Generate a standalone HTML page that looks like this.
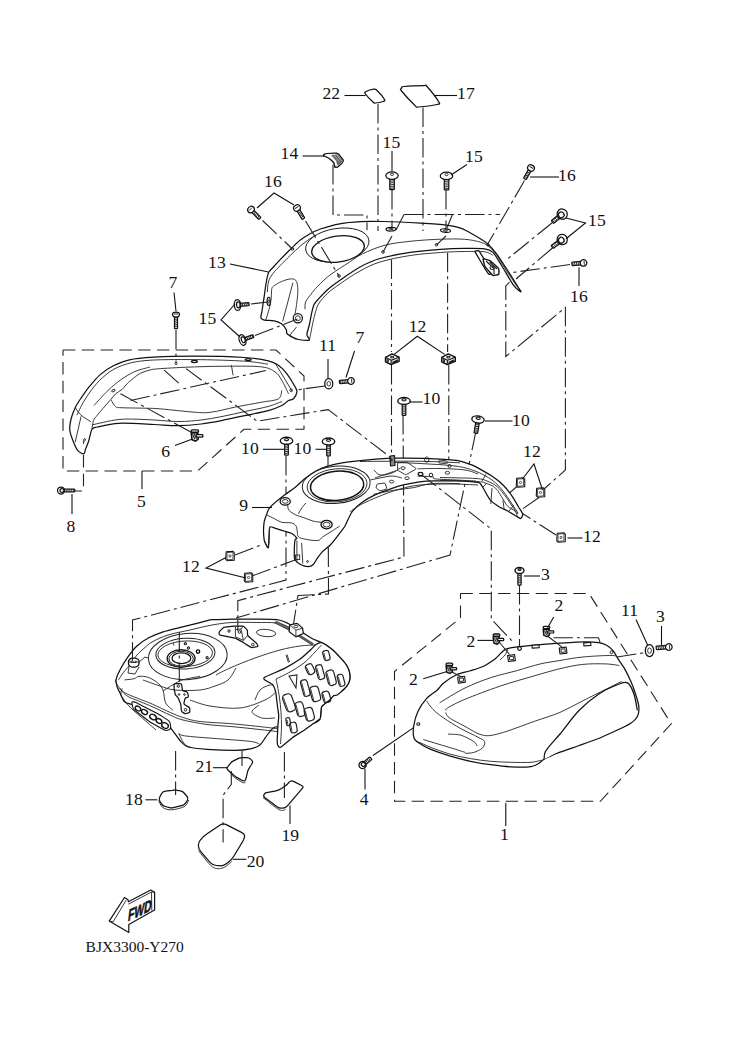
<!DOCTYPE html>
<html><head><meta charset="utf-8"><style>
html,body{margin:0;padding:0;background:#fff}
svg{display:block}
.n{font-family:"Liberation Serif",serif;font-size:17.6px;fill:#111}
.c{font-family:"Liberation Serif",serif;font-size:15.5px;fill:#111}
.s{fill:none;stroke:#111;stroke-width:1.1}
.ch{fill:none;stroke:#222;stroke-width:1.1;stroke-dasharray:19.5 4 3 4}
.da{fill:none;stroke:#222;stroke-width:1.1;stroke-dasharray:12.4 6.4}
.p{fill:#fff;stroke:#111;stroke-width:1.25;stroke-linejoin:round}
.t{fill:none;stroke:#222;stroke-width:0.9}
</style></head><body>
<svg width="744" height="1052" viewBox="0 0 744 1052">
<path d="M63.0,350.0 L276.0,350.0 L304.0,376.0 L304.0,429.3 L244.0,429.3 L197.5,471.0 L63.0,471.0 L63.0,350.0" class="da"/>
<path d="M460.5,593.5 L589.0,593.5 L671.3,723.8 L600.4,801.3 L394.5,801.3 L394.5,671.5 L460.5,617.8 L460.5,593.5" class="da"/>
<path d="M83.5,455.0 L83.5,491.0 L75.0,491.0" class="da"/>
<path d="M552.5,222.5 L505.0,261.0" class="ch"/>
<path d="M552.5,248.0 L516.0,279.0" class="ch"/>
<path d="M570.0,264.5 L512.5,272.5" class="ch"/>
<path d="M325.0,386.0 L296.0,390.0" class="ch"/>
<path d="M391.5,259.5 L391.5,352.0" class="ch"/>
<path d="M447.6,252.8 L447.6,352.0" class="ch"/>
<path d="M391.5,365.0 L391.5,460.0" class="ch"/>
<path d="M448.8,365.0 L448.8,460.0" class="ch"/>
<path d="M403.0,415.0 L404.0,557.0 L237.8,600.6 L237.8,630.8" class="ch"/>
<path d="M286.0,456.0 L286.0,580.0 L132.5,620.0 L132.5,655.0" class="ch"/>
<path d="M328.0,456.0 L328.5,594.0 L298.0,595.5 L293.0,627.5" class="ch"/>
<path d="M476.0,431.0 L450.0,555.0 L236.0,618.0" class="ch"/>
<path d="M235.0,555.0 L263.5,544.0" class="ch"/>
<path d="M252.0,576.0 L295.0,560.0" class="ch"/>
<path d="M517.5,486.0 L506.0,496.0" class="ch"/>
<path d="M539.0,497.5 L517.5,512.5" class="ch"/>
<path d="M556.0,535.0 L521.0,512.5" class="ch"/>
<path d="M519.5,585.0 L519.5,640.0" class="ch"/>
<path d="M509.5,282.0 L505.8,286.0 L505.8,356.5 L565.4,307.4 L565.4,470.0 L544.0,489.0" class="ch"/>
<path d="M404.0,214.5 L500.0,214.5" class="ch"/>
<path d="M83.8,453.8 C82.7,454.0 79.5,452.6 77.9,450.7 C76.3,448.8 74.3,444.1 73.1,441.0 C71.9,437.9 70.1,433.5 69.8,430.3 C69.5,427.1 70.1,422.9 70.9,419.5 C71.7,416.1 73.7,410.9 75.2,407.7 C76.7,404.5 78.9,401.2 81.1,398.0 C83.3,394.8 86.8,389.7 89.7,386.2 C92.6,382.7 96.9,377.5 100.5,374.4 C104.1,371.3 109.1,368.0 113.4,365.8 C117.8,363.6 123.4,361.1 129.5,359.8 C135.6,358.5 144.4,357.8 154.1,357.2 C163.8,356.6 180.8,356.1 194.4,356.1 C208.0,356.1 233.7,356.8 244.8,357.5 C255.9,358.2 263.3,359.6 268.3,360.8 C273.3,362.0 275.6,363.3 278.4,365.2 C281.2,367.1 284.3,370.3 286.8,373.6 C289.3,376.9 293.7,384.2 295.2,387.0 C296.7,389.8 297.2,390.3 296.9,392.1 C296.6,393.9 294.8,397.5 293.5,398.8 C292.2,400.1 290.3,399.5 288.5,400.5 C286.7,401.5 284.8,404.0 281.8,405.5 C278.8,407.0 273.9,409.1 268.3,410.6 C262.8,412.1 251.9,414.1 244.8,415.6 C237.8,417.1 227.9,419.3 221.3,420.6 C214.7,421.9 207.7,423.2 201.1,424.0 C194.5,424.8 184.7,425.6 177.6,425.7 C170.5,425.8 162.9,424.9 154.1,424.5 C145.3,424.1 127.3,422.9 118.8,423.3 C110.3,423.7 101.3,426.1 97.3,427.0 C93.3,427.9 93.2,427.4 91.9,429.5 C90.6,431.6 89.7,438.0 88.7,441.0 C87.7,444.0 86.1,447.7 85.4,449.6 C84.7,451.5 84.9,453.6 83.8,453.8Z" class="p"/>
<path d="M76.8,415.2 C77.9,413.1 80.8,406.6 83.3,402.3 C85.8,398.0 88.7,393.5 91.9,389.4 C95.1,385.3 98.1,381.4 102.6,377.6 C107.1,373.8 111.7,369.6 118.8,366.8 C125.9,364.0 132.4,361.8 145.0,360.6 C157.6,359.4 177.8,359.5 194.4,359.6 C211.0,359.7 232.5,360.4 244.8,361.2 C257.1,362.0 264.1,363.7 268.0,364.2" class="t" />
<path d="M94.0,405.5 C96.3,403.0 103.5,394.8 108.0,390.5 C112.5,386.2 116.4,382.9 120.9,379.7 C125.4,376.5 130.2,373.6 135.0,371.5 C139.8,369.4 147.5,367.8 150.0,367.0" class="t" />
<path d="M91.9,429.2 C92.2,427.8 92.6,422.9 93.5,420.6 C94.4,418.3 95.8,417.2 97.3,415.2 C98.8,413.2 100.4,411.3 102.6,408.8 C104.8,406.3 108.0,402.8 110.2,400.2 C112.4,397.6 114.0,395.3 116.0,393.5 C118.0,391.7 120.3,390.9 122.0,389.5 C123.7,388.1 124.4,386.6 126.0,385.0 C127.6,383.4 129.3,381.6 131.7,379.7 C134.1,377.8 137.2,374.9 140.3,373.3 C143.4,371.7 146.6,370.8 150.0,370.0 C153.4,369.2 153.4,369.1 160.8,368.6 C168.2,368.1 183.2,367.3 194.4,366.9 C205.6,366.5 216.8,366.2 228.0,366.2 C239.2,366.2 253.8,365.9 261.6,366.9 C269.4,367.8 271.6,369.7 275.0,371.9 C278.4,374.1 279.6,376.6 281.8,380.3 C284.1,384.0 287.4,391.6 288.5,393.8" class="t" />
<path d="M111.2,400.2 C111.9,401.3 113.9,405.4 115.5,406.6 C117.1,407.9 116.0,407.4 120.9,407.7 C125.8,408.0 138.3,408.0 145.0,408.2 C151.7,408.4 152.6,408.2 160.8,408.9 C169.0,409.6 186.0,411.6 194.4,412.2 C202.8,412.8 204.5,413.0 211.2,412.2 C217.9,411.4 226.3,408.9 234.7,407.2 C243.1,405.5 254.3,403.6 261.6,402.2 C268.9,400.8 275.0,400.8 278.4,398.8 C281.8,396.8 281.2,391.8 281.8,390.4" class="t" />
<path d="M91.9,424.9 C96.4,424.0 110.0,420.4 118.8,419.5 C127.6,418.6 135.1,419.2 145.0,419.5 C154.9,419.8 168.7,421.4 178.0,421.5 C187.3,421.6 193.7,420.8 201.0,420.0 C208.3,419.2 214.7,417.9 222.0,416.5 C229.3,415.1 237.3,413.2 245.0,411.5 C252.7,409.8 261.8,408.2 268.0,406.5 C274.2,404.8 279.7,402.3 282.0,401.5" class="t" />
<path d="M75.2,407.7 C76.2,408.9 78.5,412.9 81.1,415.2 C83.7,417.5 89.2,420.6 90.8,421.7" class="t" />
<path d="M81.1,416.3 L75.2,442.1" class="t"/>
<path d="M276.0,364.5 L292.0,391.0" class="t"/>
<circle cx="291.2" cy="390.4" r="1.3" class="t"/>
<ellipse cx="113.4" cy="390.5" rx="1.8" ry="1.1" transform="rotate(-30 113.4 390.5)" class="t"/>
<path d="M83.6,444 C83,441 83.5,438.5 85,438.5 C86,439 85.5,441 84,441.5" class="t"/>
<path d="M176.0,330.0 L176.0,363.0" class="ch"/>
<path d="M120.5,393.8 L197.8,435.8" class="ch"/>
<path d="M130.6,400.5 L266.0,370.5" class="ch"/>
<path d="M186.0,368.6 L257.2,421.2 L328.2,409.6 L390.5,457.4" class="ch"/>
<path d="M164.2,370.2 L179.3,383.7" class="ch"/>
<path d="M231.4,365.2 L233.1,375.3" class="t"/>
<circle cx="176" cy="363.5" r="1.1" class="t"/>
<ellipse cx="194.4" cy="361.5" rx="3" ry="1.1" class="p"/>
<ellipse cx="248.2" cy="359.5" rx="3" ry="1" class="p"/>
<path d="M269.1,508.5 C270.3,506.6 273.1,504.3 275.2,502.4 C277.3,500.5 282.5,496.4 285.2,494.4 C287.9,492.4 292.6,489.5 295.3,487.3 C298.0,485.1 302.2,480.6 305.4,478.2 C308.6,475.8 315.5,471.1 319.5,469.2 C323.5,467.3 330.8,465.2 335.6,464.1 C340.4,463.0 350.4,461.8 355.8,461.1 C361.2,460.4 370.6,459.5 376.0,459.1 C381.4,458.7 389.7,458.2 396.1,458.1 C402.5,458.0 415.8,458.0 423.8,458.3 C431.8,458.6 449.7,459.5 456.0,460.4 C462.3,461.3 467.7,463.4 471.1,464.7 C474.5,466.0 478.9,468.5 481.8,470.1 C484.7,471.7 489.7,474.6 492.6,476.6 C495.5,478.6 500.7,482.6 503.3,485.2 C505.9,487.8 509.9,493.0 511.9,495.9 C513.9,498.8 517.0,504.3 518.4,506.7 C519.8,509.1 522.4,512.6 522.7,514.2 C523.0,515.8 521.1,518.1 520.5,518.5 C519.9,518.9 520.1,518.4 518.4,517.4 C516.7,516.4 510.2,512.4 507.6,511.0 C505.0,509.6 501.3,508.1 499.0,506.7 C496.7,505.3 492.4,502.5 490.4,500.2 C488.4,497.9 485.4,491.8 484.0,489.5 C482.6,487.2 481.1,484.0 479.7,483.0 C478.3,482.0 476.4,482.2 473.2,481.9 C470.0,481.6 461.2,481.0 456.0,480.9 C450.8,480.8 439.4,480.8 434.5,480.9 C429.6,481.0 423.8,481.3 419.5,481.9 C415.2,482.5 406.0,484.3 402.3,485.2 C398.6,486.1 395.6,487.1 392.1,488.3 C388.6,489.5 380.0,492.5 376.0,494.4 C372.0,496.3 365.1,500.1 361.9,502.4 C358.7,504.7 354.3,508.9 352.0,512.0 C349.7,515.1 346.6,523.2 345.0,526.0 C343.4,528.8 341.7,530.6 339.7,533.2 C337.7,535.8 332.3,542.9 330.0,545.3 C327.7,547.7 324.3,549.8 322.7,551.4 C321.1,553.0 319.2,555.6 317.9,557.4 C316.6,559.2 314.4,563.5 313.1,564.7 C311.8,565.9 309.8,566.5 308.2,566.5 C306.6,566.5 302.8,565.6 301.0,564.7 C299.2,563.8 295.8,561.4 294.9,559.8 C294.0,558.2 294.3,555.2 294.3,552.6 C294.3,550.0 294.6,542.4 294.9,540.5 C295.2,538.6 297.2,539.1 296.7,538.1 C296.2,537.1 293.0,534.1 291.3,533.2 C289.6,532.3 286.1,531.6 284.0,531.0 C281.9,530.4 277.5,528.9 275.6,528.4 C273.7,527.9 270.9,526.1 270.0,527.0 C269.1,527.9 269.2,532.2 269.0,535.0 C268.8,537.8 268.8,546.6 268.3,547.7 C267.8,548.8 265.9,544.0 265.3,542.9 C264.7,541.8 264.3,540.9 264.1,539.3 C263.9,537.7 263.5,533.1 263.5,530.8 C263.5,528.5 263.8,524.2 264.1,522.3 C264.4,520.4 265.2,518.1 265.9,516.3 C266.6,514.5 267.9,510.4 269.1,508.5Z" class="p"/>
<ellipse cx="336.2" cy="484.8" rx="34" ry="18.5" transform="rotate(-5 336.2 484.8)" class="t" style="stroke-width:1"/>
<ellipse cx="337.1" cy="485.8" rx="26.7" ry="14.6" transform="rotate(-5 337.1 485.8)" class="p" style="stroke-width:1.5"/>
<ellipse cx="337.1" cy="485.3" rx="30" ry="16.5" transform="rotate(-5 337.1 485.3)" class="t"/>
<path d="M350.0,512.0 C351.7,510.8 355.0,507.7 360.0,505.0 C365.0,502.3 373.3,498.7 380.0,496.0 C386.7,493.3 393.3,490.8 400.0,489.0 C406.7,487.2 411.7,485.8 420.0,485.0 C428.3,484.2 440.3,484.0 450.0,484.0 C459.7,484.0 473.3,484.8 478.0,485.0" class="t" />
<path d="M395.0,462.5 C399.2,462.7 410.0,462.9 420.0,463.5 C430.0,464.1 445.8,464.8 455.0,466.0 C464.2,467.2 468.8,468.7 475.0,471.0 C481.2,473.3 487.3,476.7 492.0,480.0 C496.7,483.3 499.7,487.0 503.0,491.0 C506.3,495.0 509.5,500.3 512.0,504.0 C514.5,507.7 517.0,511.5 518.0,513.0" class="t" />
<path d="M360.0,461.5 C366.7,461.4 388.3,461.2 400.0,461.2 C411.7,461.2 420.0,461.2 430.0,461.5 C440.0,461.8 455.0,462.6 460.0,462.8" class="t" />
<path d="M398.6,462.7 L406.0,462.2 Q407.0,462.1 407.8,462.7 L415.7,468.2 Q416.5,468.8 415.6,469.3 L406.6,474.4 Q405.7,474.9 404.8,474.4 L398.5,470.7 Q397.6,470.2 397.6,469.2 L397.6,463.8 Q397.6,462.8 398.6,462.7Z" class="t" />
<path d="M417.8,468.8 C421.5,468.8 432.1,468.3 440.0,468.5 C447.9,468.7 458.7,469.1 465.0,470.0 C471.3,470.9 475.8,473.3 478.0,474.0" class="t" />
<path d="M417.8,476.2 C420.3,476.3 429.7,476.4 432.6,476.9 C435.5,477.3 430.7,478.3 435.3,478.9 C439.9,479.4 453.2,479.8 460.0,480.2 C466.8,480.6 473.3,480.9 476.0,481.0" class="t" />
<path d="M373.4,494.4 C376.8,493.7 386.9,491.4 393.6,490.3 C400.3,489.2 407.5,488.7 413.8,487.6 C420.1,486.5 423.5,484.3 431.2,483.6 C438.9,482.9 455.2,483.6 460.0,483.6" class="t" />
<path d="M375.0,478.0 C376.7,477.4 381.2,475.8 385.0,474.5 C388.8,473.2 395.5,470.9 397.6,470.2" class="t" />
<path d="M390.2,456 L394.5,455.5 L395,465.5 L390.5,466 Z" class="p" style="fill:#888;stroke-width:1.1"/>
<path d="M378.0,483.9 L384.0,483.1 Q385.0,483.0 385.3,483.9 L386.7,488.1 Q387.0,489.0 386.0,489.3 L381.0,490.7 Q380.0,491.0 379.2,490.4 L376.8,488.6 Q376.0,488.0 376.2,487.0 L376.8,485.0 Q377.0,484.0 378.0,483.9Z" class="t" />
<ellipse cx="403" cy="468.1" rx="2.2" ry="1.4" class="t"/>
<ellipse cx="420.5" cy="474.2" rx="2.2" ry="1.4" class="t"/>
<ellipse cx="447.4" cy="472.8" rx="2.2" ry="1.4" class="t"/>
<ellipse cx="407" cy="478.2" rx="2.2" ry="1.4" class="t"/>
<ellipse cx="391.6" cy="481.6" rx="2.2" ry="1.4" class="t"/>
<path d="M440.0,480.3 C446.1,480.5 468.6,481.0 476.3,481.5 C484.0,482.0 482.8,482.2 486.0,483.3 C489.2,484.4 492.8,485.5 495.6,488.1 C498.4,490.7 500.9,496.0 502.9,499.0 C504.9,502.0 505.7,504.3 507.7,506.3 C509.7,508.3 513.4,509.3 515.0,511.1 C516.6,512.9 517.0,516.2 517.4,517.2" class="t" />
<path d="M440.0,477.5 C446.0,477.7 468.2,477.9 476.0,478.5 C483.8,479.1 483.5,479.7 487.0,481.0 C490.5,482.3 493.8,483.8 497.0,486.5 C500.2,489.2 503.5,493.8 506.0,497.0 C508.5,500.2 510.0,503.2 512.0,506.0 C514.0,508.8 517.0,512.7 518.0,514.0" class="t" />
<path d="M492.0,488.1 L490.8,503.9" class="t"/>
<path d="M502.9,500.2 L504.1,508.7" class="t"/>
<path d="M483.0,487.0 L486.0,484.0" class="t"/>
<path d="M486.0,474.2 L482.0,481.0" class="t"/>
<path d="M514.0,505.0 L509.0,511.0" class="t"/>
<path d="M374.0,470.0 C375.0,470.8 377.0,474.5 380.0,475.0 C383.0,475.5 388.7,474.2 392.0,473.0 C395.3,471.8 398.7,468.8 400.0,468.0" class="t" />
<path d="M370.0,480.0 C371.7,479.7 376.3,478.7 380.0,478.0 C383.7,477.3 388.3,476.0 392.0,476.0 C395.7,476.0 400.3,477.7 402.0,478.0" class="t" />
<ellipse cx="285.2" cy="501.4" rx="5.1" ry="3.7" class="p" style="stroke-width:1.3"/>
<ellipse cx="285.2" cy="501.4" rx="2.9" ry="1.9" class="t"/>
<ellipse cx="326.6" cy="524.6" rx="5.6" ry="4.2" class="p" style="stroke-width:1.3"/>
<ellipse cx="326.6" cy="524.6" rx="3.4" ry="2.4" class="t"/>
<circle cx="431" cy="475" r="1.8" class="t" style="stroke-width:1"/>
<circle cx="449.5" cy="466" r="1.5" class="t" style="stroke-width:1"/>
<circle cx="391" cy="460" r="1.2" class="t" style="stroke-width:1"/>
<path d="M267.1,515.1 C268.3,515.7 272.0,517.5 274.4,518.7 C276.8,519.9 278.8,521.6 281.6,522.3 C284.4,523.0 288.9,522.3 291.3,522.9 C293.7,523.5 295.1,524.5 296.1,526.0 C297.1,527.5 296.9,530.2 297.3,532.0 C297.7,533.8 297.1,535.7 298.5,536.9 C299.9,538.1 302.6,538.7 305.8,539.3 C309.0,539.9 315.1,540.9 317.9,540.5 C320.7,540.1 320.3,538.5 322.7,536.9 C325.1,535.3 329.6,532.6 332.4,530.8 C335.2,529.0 338.5,526.8 339.7,526.0" class="t" />
<path d="M287.7,504.2 C287.9,505.2 287.5,508.4 288.9,510.2 C290.3,512.0 293.7,513.9 296.1,515.1 C298.5,516.3 300.6,516.5 303.4,517.5 C306.2,518.5 310.1,520.3 313.1,521.1 C316.1,521.9 320.1,522.1 321.5,522.3" class="t" />
<path d="M305.8,503.0 C305.0,504.0 302.2,507.2 301.0,509.0 C299.8,510.8 298.9,513.1 298.5,513.9" class="t" />
<path d="M269.6,527.5 C269.5,529.7 269.4,537.5 269.2,540.5 C269.0,543.5 268.7,544.5 268.6,545.3" class="t" />
<path d="M296.9,540.5 L296.9,562.3" class="t"/>
<path d="M301.6,542.9 L302.8,563.5" class="t"/>
<rect x="295.5" y="555" width="4.2" height="4.5" class="t"/>
<circle cx="307.5" cy="561.5" r="0.9" class="t" style="stroke-width:1"/>
<path d="M266.0,544.0 L268.0,548.0" class="t"/>
<path d="M264.5,541.0 L266.0,545.0" class="t"/>
<path d="M420.5,474.0 L440.0,489.0 L491.3,529.0 L491.3,619.2 L514.0,643.0" class="ch"/>
<ellipse cx="420.5" cy="474" rx="2.4" ry="1.6" class="p" style="stroke-width:1.1"/>
<path d="M425.0,458.1 L426.5,456.9 Q427.0,456.5 427.4,456.9 L428.6,458.1 Q429.0,458.5 428.9,459.1 L428.6,461.4 Q428.5,462.0 427.9,462.0 L425.6,462.0 Q425.0,462.0 424.9,461.4 L424.6,459.1 Q424.5,458.5 425.0,458.1Z" class="t" />
<path d="M438.6,461.0 L445.4,460.5 Q446.0,460.5 446.4,461.0 L447.6,462.5 Q448.0,463.0 447.4,463.1 L440.6,463.9 Q440.0,464.0 439.7,463.5 L438.3,461.5 Q438.0,461.0 438.6,461.0Z" class="t" />
<path d="M116.0,680.2 C116.3,678.2 118.4,673.0 119.7,670.5 C121.0,668.0 124.9,661.2 126.9,658.4 C128.9,655.6 134.1,648.7 136.6,646.3 C139.1,643.9 145.6,639.5 148.7,637.8 C151.8,636.1 159.2,633.1 163.2,631.8 C167.2,630.5 178.1,628.0 182.6,626.9 C187.1,625.8 198.5,622.9 201.9,622.1 C205.3,621.3 208.2,620.0 211.6,619.7 C215.0,619.4 225.9,619.3 231.0,619.2 C236.1,619.1 249.8,619.1 255.2,619.2 C260.6,619.3 272.8,619.1 276.9,619.7 C281.0,620.3 286.1,622.4 290.0,624.5 C293.9,626.6 307.0,635.7 310.7,637.8 C314.4,639.9 319.0,641.3 321.5,642.6 C324.0,643.9 329.7,647.4 331.9,649.2 C334.1,651.0 339.0,656.2 340.7,658.1 C342.4,660.0 345.7,663.8 346.7,665.5 C347.7,667.2 349.3,671.2 349.6,672.9 C349.9,674.6 349.9,678.7 349.6,680.3 C349.3,681.9 347.7,684.8 346.7,686.2 C345.7,687.6 342.3,691.0 340.7,692.1 C339.1,693.2 335.3,694.4 333.4,695.8 C331.5,697.2 325.9,702.6 324.5,703.9 C323.1,705.2 322.0,705.2 321.5,706.9 C321.0,708.6 321.0,716.8 320.1,718.7 C319.2,720.6 316.4,722.3 314.1,723.1 C311.8,723.9 303.7,725.0 300.0,725.5 C296.3,726.0 284.9,726.8 282.0,727.0 C279.1,727.2 276.3,726.6 275.0,727.0 C273.7,727.4 272.1,728.9 271.0,730.1 C269.9,731.3 266.7,735.8 265.4,737.6 C264.1,739.4 261.5,743.9 259.7,745.2 C257.9,746.5 253.1,748.3 250.3,748.9 C247.5,749.5 240.4,750.4 235.3,750.4 C230.2,750.4 212.5,749.7 207.0,749.3 C201.5,748.9 191.3,747.9 188.2,747.0 C185.1,746.1 182.2,742.9 180.7,741.4 C179.2,739.9 176.4,735.7 175.1,733.9 C173.8,732.1 170.8,728.0 169.4,726.3 C168.0,724.5 165.0,720.3 163.2,718.9 C161.4,717.5 156.1,715.1 153.6,714.0 C151.1,712.9 144.0,710.3 141.5,709.2 C139.0,708.1 133.8,705.3 131.8,704.4 C129.8,703.5 125.9,703.3 124.5,701.9 C123.1,700.5 120.5,694.0 119.7,692.3 C118.9,690.6 117.7,688.8 117.3,687.4 C116.9,686.0 115.7,682.2 116.0,680.2Z" class="p"/>
<path d="M118.5,679.9 C119.3,678.7 121.5,675.1 123.3,672.7 C125.1,670.3 127.1,668.4 129.4,665.4 C131.7,662.4 134.4,658.0 137.0,655.0 C139.6,652.0 142.5,649.7 145.0,647.5 C147.5,645.3 148.2,644.1 152.0,642.0 C155.8,639.9 161.7,637.0 168.0,635.0 C174.3,633.0 182.7,631.7 190.0,630.0 C197.3,628.3 205.0,626.2 212.0,625.0 C219.0,623.8 224.7,622.9 232.0,622.5 C239.3,622.1 248.7,622.4 256.0,622.5 C263.3,622.6 270.3,622.1 276.0,623.0 C281.7,623.9 287.7,627.2 290.0,628.0" class="t" />
<path d="M115.4,679.9 C115.7,680.7 116.2,683.0 117.3,684.8 C118.4,686.6 120.3,689.2 122.1,690.8 C123.9,692.4 125.1,693.0 128.1,694.4 C131.1,695.8 136.2,697.7 140.2,699.3 C144.2,700.9 147.2,701.9 152.3,704.1 C157.4,706.3 165.4,710.4 170.5,712.6 C175.6,714.8 177.7,715.9 182.6,717.4 C187.5,718.9 191.9,720.5 200.0,721.5 C208.1,722.5 221.8,722.9 231.0,723.7 C240.2,724.5 247.5,725.3 255.2,726.1 C262.9,726.9 273.4,728.2 277.0,728.6" class="t" />
<path d="M119.5,688.0 C120.2,688.9 122.2,691.9 124.0,693.5 C125.8,695.1 127.2,696.1 130.0,697.5 C132.8,698.9 137.2,700.4 141.0,702.0 C144.8,703.6 148.0,704.8 153.0,707.0 C158.0,709.2 166.0,713.3 171.0,715.5 C176.0,717.7 177.0,718.5 183.0,720.0 C189.0,721.5 199.0,723.4 207.0,724.5 C215.0,725.6 223.0,725.8 231.0,726.5 C239.0,727.2 247.3,728.2 255.0,729.0 C262.7,729.8 273.3,731.1 277.0,731.5" class="t" />
<path d="M178.8,732.9 C179.8,733.4 178.2,734.8 184.5,735.8 C190.8,736.8 205.5,737.7 216.5,738.6 C227.5,739.5 243.1,740.5 250.3,741.4 C257.5,742.3 258.1,743.7 259.7,744.2" class="t" />
<path d="M178.8,733.9 C179.8,735.6 182.6,742.0 184.5,744.2 C186.4,746.4 189.2,746.5 190.1,747.0" class="t" />
<path d="M122.1,688.4 C121.9,689.4 120.5,692.4 120.9,694.4 C121.3,696.4 122.9,698.3 124.5,700.5 C126.1,702.7 127.8,704.9 130.6,707.7 C133.4,710.5 138.3,714.6 141.5,717.4 C144.7,720.2 147.5,722.6 149.9,724.7 C152.3,726.8 155.0,729.1 156.0,730.0" class="t" />
<path d="M124.5,679.9 C126.1,679.7 131.8,679.3 134.2,678.7 C136.6,678.1 136.6,676.5 139.0,676.3 C141.4,676.1 145.5,676.3 148.7,677.5 C151.9,678.7 156.0,681.3 158.4,683.5 C160.8,685.7 162.0,687.6 163.2,690.8 C164.4,694.0 164.0,699.7 165.6,702.9 C167.2,706.1 171.7,709.0 172.9,710.2" class="t" />
<path d="M163.2,690.8 C164.8,689.8 169.7,686.6 172.9,684.8 C176.1,683.0 178.1,681.3 182.6,679.9 C187.1,678.5 197.1,676.9 200.0,676.3" class="t" />
<ellipse cx="187.8" cy="656.5" rx="39.5" ry="23" transform="rotate(-4 187.8 656.5)" class="t" style="stroke-width:1"/>
<ellipse cx="185.4" cy="653.6" rx="29.6" ry="15.3" transform="rotate(-3 185.4 653.6)" class="t" style="stroke-width:1"/>
<ellipse cx="185.2" cy="653.8" rx="27.3" ry="12.8" transform="rotate(-3 185.2 653.8)" class="t"/>
<ellipse cx="181.1" cy="658.5" rx="13.9" ry="8.8" class="p" style="stroke-width:1.4"/>
<ellipse cx="181.1" cy="658.7" rx="12.2" ry="7.4" class="t" style="stroke-width:1"/>
<ellipse cx="181.4" cy="658.2" rx="9.4" ry="5.4" class="p" style="stroke-width:1.3"/>
<circle cx="185.4" cy="643.7" r="1.1" class="t" style="stroke-width:1.1"/>
<circle cx="188.4" cy="648" r="1.1" class="t" style="stroke-width:1.1"/>
<circle cx="207.1" cy="657.7" r="1.1" class="t" style="stroke-width:1.1"/>
<circle cx="198" cy="651.6" r="1.7" class="p" style="stroke-width:1.4"/>
<path d="M173.0,643.0 L174.0,645.5" class="t"/>
<path d="M175.3,683.5 L180.2,683.5 Q181.4,683.5 181.6,684.7 L182.4,689.6 Q182.6,690.8 183.8,691.1 L186.2,691.7 Q187.4,692.0 187.7,693.2 L188.3,695.7 Q188.6,696.9 187.5,697.3 L186.1,697.7 Q185.0,698.1 184.8,699.3 L184.0,702.9 Q183.8,704.1 184.8,704.7 L188.8,707.1 Q189.8,707.7 189.8,708.9 L189.8,711.4 Q189.8,712.6 188.6,712.9 L186.2,713.5 Q185.0,713.8 184.0,713.1 L182.4,712.1 Q181.4,711.4 181.3,710.2 L180.9,705.3 Q180.8,704.1 180.3,703.0 L178.2,698.0 Q177.7,696.9 176.8,696.2 L176.2,695.7 Q175.3,695.0 175.1,693.8 L174.3,689.6 Q174.1,688.4 174.1,687.2 L174.1,684.7 Q174.1,683.5 175.3,683.5Z" class="p" />
<circle cx="178.3" cy="686.2" r="1.2" class="t" style="stroke-width:1"/>
<circle cx="185.5" cy="709.8" r="1.3" class="t" style="stroke-width:1"/>
<circle cx="179" cy="694.5" r="0.8" class="t" style="stroke-width:1"/>
<circle cx="184.5" cy="694.5" r="0.8" class="t" style="stroke-width:1"/>
<path d="M129.3,659.7 L130.2,658.8 Q131.0,658.0 132.2,658.0 L134.8,658.0 Q136.0,658.0 137.0,658.7 L138.0,659.3 Q139.0,660.0 139.0,661.2 L139.0,663.8 Q139.0,665.0 138.1,665.7 L137.4,666.3 Q136.5,667.0 135.3,667.0 L132.2,667.0 Q131.0,667.0 130.1,666.3 L129.4,665.7 Q128.5,665.0 128.5,663.8 L128.5,661.7 Q128.5,660.5 129.3,659.7Z" class="p" />
<path d="M131,660.5 L131,662.5 L136,662.5 L136,660.5 M128.5,662 L139,662" class="t"/>
<path d="M129,667 L128,673 L135,674 L139,667 M139,662 L145,657 L148,658" class="t"/>
<path d="M219.8,631.1 L222.9,628.1 Q223.7,627.2 224.9,627.1 L231.8,626.3 Q233.0,626.2 234.2,626.2 L242.2,626.1 Q243.4,626.1 244.2,626.9 L246.7,629.4 Q247.5,630.2 247.5,631.4 L247.5,634.3 Q247.5,635.5 248.4,636.3 L256.0,642.8 Q256.9,643.6 257.4,644.7 L257.7,645.2 Q258.2,646.3 257.0,646.6 L252.7,647.5 Q251.5,647.8 250.5,647.1 L244.4,643.2 Q243.4,642.5 242.3,641.9 L237.1,639.1 Q236.0,638.5 234.8,638.2 L220.2,635.1 Q219.0,634.8 219.0,633.6 L219.0,633.2 Q219.0,632.0 219.8,631.1Z" class="p" />
<path d="M235.4,626.6 L235.4,636.9 L243.4,640.4 L247.5,635.5 M243.4,626.1 L241,629 L235.4,629.5 M241,629 L243.4,640.4" class="t"/>
<circle cx="229" cy="631" r="1.2" class="t" style="stroke-width:1"/>
<circle cx="239.5" cy="632" r="1.3" class="t" style="stroke-width:1"/>
<circle cx="252.8" cy="644.6" r="1.3" class="t" style="stroke-width:1"/>
<ellipse cx="266.1" cy="633" rx="9.7" ry="3.6" transform="rotate(5 266.1 633)" class="t"/>
<path d="M274.4,622.8 L289.1,630.2 L289.8,627.5 L276.4,621.4 Z" style="fill:#666;stroke:#222;stroke-width:0.7"/>
<path d="M297.2,635.5 L312,645 L313.3,643.6 L298.5,634.2 Z" style="fill:#666;stroke:#222;stroke-width:0.7"/>
<path d="M289.8,624.8 L297.2,623.4 L302.6,628.1 L303.3,633.5 L295.9,636.9 L289.1,631.5 Z" class="p" style="stroke-width:1.2"/>
<path d="M289.8,624.8 L295.9,630.2 L302.6,628.1 M295.9,630.2 L295.9,636.9" class="t"/>
<ellipse cx="296" cy="626.5" rx="2" ry="1.2" class="t"/>
<path d="M287.0,654.5 L289.5,662.0" class="t"/>
<path d="M286.0,655.0 L288.5,662.5" class="t"/>
<path d="M143.0,680.0 C145.8,681.0 154.7,684.3 160.0,686.0 C165.3,687.7 168.3,689.3 175.0,690.0 C181.7,690.7 193.3,690.7 200.0,690.0 C206.7,689.3 210.3,687.7 215.0,686.0 C219.7,684.3 224.5,683.0 228.0,680.0 C231.5,677.0 234.7,670.0 236.0,668.0" class="t" />
<path d="M216.0,675.0 C218.3,673.8 223.5,670.8 230.0,668.0 C236.5,665.2 246.7,661.0 255.0,658.0 C263.3,655.0 272.5,652.0 280.0,650.0 C287.5,648.0 294.2,646.8 300.0,646.0 C305.8,645.2 312.5,645.2 315.0,645.0" class="t" />
<path d="M190.0,700.0 C193.3,701.0 201.7,704.7 210.0,706.0 C218.3,707.3 230.8,709.0 240.0,708.0 C249.2,707.0 259.0,702.7 265.0,700.0 C271.0,697.3 274.2,693.3 276.0,692.0" class="t" />
<path d="M255.0,700.0 C255.8,698.3 257.5,692.5 260.0,690.0 C262.5,687.5 267.3,685.7 270.0,685.0 C272.7,684.3 275.0,685.8 276.0,686.0" class="t" />
<path d="M259.0,705.0 C257.8,706.2 251.5,709.8 252.0,712.0 C252.5,714.2 258.2,717.0 262.0,718.0 C265.8,719.0 272.8,718.0 275.0,718.0" class="t" />
<path d="M133.8,701.9 L134.7,702.1 Q137.0,703.0 139.2,704.2 L157.8,713.8 Q160.0,715.0 162.1,716.4 L167.9,720.1 Q170.0,721.5 170.3,724.0 L170.7,726.5 Q171.0,729.0 168.7,729.9 L168.3,730.1 Q166.0,731.0 163.8,729.8 L152.2,723.2 Q150.0,722.0 148.0,720.5 L135.0,710.5 Q133.0,709.0 132.5,706.5 L132.0,703.5 Q131.5,701.0 133.8,701.9Z" class="p" style="stroke-width:1.1"/>
<ellipse cx="138" cy="708.5" rx="3" ry="2" transform="rotate(30 138 708.5)" class="p" style="stroke-width:1.4"/>
<ellipse cx="144.5" cy="712" rx="3.2" ry="2.2" transform="rotate(30 144.5 712)" class="p" style="stroke-width:1.4"/>
<ellipse cx="153" cy="717" rx="3.5" ry="2.4" transform="rotate(30 153 717)" class="p" style="stroke-width:1.4"/>
<ellipse cx="159" cy="721" rx="3" ry="2.1" transform="rotate(30 159 721)" class="p" style="stroke-width:1.4"/>
<ellipse cx="165" cy="725.5" rx="3.5" ry="2.6" transform="rotate(30 165 725.5)" class="p" style="stroke-width:1.4"/>
<path d="M264.6,677.3 C266.5,676.1 281.1,670.2 284.6,668.4 C288.1,666.6 296.7,661.5 299.4,659.6 C302.1,657.7 309.6,650.7 311.2,649.2 C312.8,647.7 314.6,645.5 315.6,644.8 C316.6,644.1 319.9,642.2 321.5,642.6 C323.1,643.0 330.0,647.7 331.9,649.2 C333.8,650.8 339.2,656.5 340.7,658.1 C342.2,659.7 345.8,664.0 346.7,665.5 C347.6,667.0 349.3,671.4 349.6,672.9 C349.9,674.4 349.9,679.0 349.6,680.3 C349.3,681.6 347.6,685.0 346.7,686.2 C345.8,687.4 341.7,691.2 340.7,692.1 C339.7,693.0 337.8,694.6 337.1,695.0 C336.4,695.4 334.1,695.3 333.4,695.8 C332.7,696.2 331.3,698.7 330.4,699.5 C329.5,700.3 325.4,703.2 324.5,703.9 C323.6,704.6 321.9,706.0 321.5,706.9 C321.1,707.8 320.9,711.6 320.8,712.8 C320.7,714.0 320.8,717.7 320.1,718.7 C319.4,719.7 315.7,721.9 314.1,723.1 C312.5,724.3 306.0,729.0 303.8,730.5 C301.6,732.0 294.2,736.3 292.0,737.9 C289.8,739.5 282.9,745.9 281.6,746.8 C280.3,747.7 279.1,747.2 278.7,746.8 C278.3,746.4 277.3,744.5 277.2,742.4 C277.1,740.3 277.8,728.8 277.9,726.1 C278.0,723.4 278.8,717.9 278.7,715.7 C278.6,713.5 277.5,706.3 277.2,703.9 C276.9,701.5 276.1,694.0 275.7,692.1 C275.2,690.2 273.7,685.9 272.7,684.7 C271.7,683.5 266.1,681.0 265.3,680.3 C264.5,679.6 262.7,678.5 264.6,677.3Z" class="p"/>
<path d="M276.0,679.0 C276.2,680.2 276.9,682.8 277.5,686.0 C278.1,689.2 278.9,693.7 279.5,698.0 C280.1,702.3 280.7,707.2 281.0,712.0 C281.3,716.8 281.6,721.7 281.5,727.0 C281.4,732.3 280.7,741.2 280.5,744.0" class="t" />
<path d="M276.0,679.0 C278.3,677.8 285.3,674.7 290.0,672.0 C294.7,669.3 299.8,666.3 304.0,663.0 C308.2,659.7 312.1,655.0 315.0,652.0 C317.9,649.0 320.4,646.2 321.5,645.0" class="t" />
<rect x="323.4" y="650.5" width="6.1" height="9.9" rx="2.4" transform="rotate(-15 326.5 655.5)" class="t" style="stroke-width:1.2"/>
<path d="M324.6,652.5 L324.6,659.0" transform="rotate(-15 326.5 655.5)" class="t" style="stroke-width:0.8"/>
<rect x="306.4" y="663.9" width="7.3" height="10.6" rx="2.9" transform="rotate(-25 310.1 669.2)" class="t" style="stroke-width:1.2"/>
<path d="M307.6,665.9 L307.6,673.0" transform="rotate(-25 310.1 669.2)" class="t" style="stroke-width:0.8"/>
<rect x="316.8" y="664.8" width="6.6" height="14.7" rx="2.6" transform="rotate(-15 320.0 672.1)" class="t" style="stroke-width:1.2"/>
<path d="M318.0,666.8 L318.0,678.0" transform="rotate(-15 320.0 672.1)" class="t" style="stroke-width:0.8"/>
<rect x="327.1" y="670.1" width="8.0" height="15.3" rx="3.2" transform="rotate(-15 331.1 677.7)" class="t" style="stroke-width:1.2"/>
<path d="M328.3,672.1 L328.3,683.9" transform="rotate(-15 331.1 677.7)" class="t" style="stroke-width:0.8"/>
<rect x="338.1" y="674.3" width="5.9" height="12.0" rx="2.4" transform="rotate(-15 341.1 680.2)" class="t" style="stroke-width:1.2"/>
<path d="M339.3,676.3 L339.3,684.7" transform="rotate(-15 341.1 680.2)" class="t" style="stroke-width:0.8"/>
<rect x="302.0" y="679.7" width="6.7" height="16.7" rx="2.7" transform="rotate(-15 305.3 688.0)" class="t" style="stroke-width:1.2"/>
<path d="M303.2,681.7 L303.2,694.9" transform="rotate(-15 305.3 688.0)" class="t" style="stroke-width:0.8"/>
<rect x="310.9" y="686.2" width="8.7" height="15.3" rx="3.5" transform="rotate(-15 315.2 693.9)" class="t" style="stroke-width:1.2"/>
<path d="M312.1,688.2 L312.1,700.0" transform="rotate(-15 315.2 693.9)" class="t" style="stroke-width:0.8"/>
<rect x="322.7" y="691.2" width="7.3" height="11.3" rx="2.9" transform="rotate(-15 326.4 696.9)" class="t" style="stroke-width:1.2"/>
<path d="M323.9,693.2 L323.9,701.1" transform="rotate(-15 326.4 696.9)" class="t" style="stroke-width:0.8"/>
<rect x="284.3" y="693.8" width="9.4" height="18.0" rx="3.7" transform="rotate(-20 289.0 702.8)" class="t" style="stroke-width:1.2"/>
<path d="M285.5,695.8 L285.5,710.3" transform="rotate(-20 289.0 702.8)" class="t" style="stroke-width:0.8"/>
<rect x="296.1" y="701.8" width="7.9" height="14.6" rx="3.2" transform="rotate(-15 300.1 709.1)" class="t" style="stroke-width:1.2"/>
<path d="M297.3,703.8 L297.3,714.9" transform="rotate(-15 300.1 709.1)" class="t" style="stroke-width:0.8"/>
<rect x="305.0" y="707.6" width="8.6" height="13.3" rx="3.5" transform="rotate(-15 309.3 714.3)" class="t" style="stroke-width:1.2"/>
<path d="M306.2,709.6 L306.2,719.5" transform="rotate(-15 309.3 714.3)" class="t" style="stroke-width:0.8"/>
<rect x="286.2" y="717.6" width="4.0" height="8.0" rx="1.6" transform="rotate(-10 288.2 721.7)" class="t" style="stroke-width:1.2"/>
<path d="M287.4,719.6 L287.4,724.2" transform="rotate(-10 288.2 721.7)" class="t" style="stroke-width:0.8"/>
<rect x="290.1" y="722.3" width="6.7" height="10.6" rx="2.7" transform="rotate(-10 293.4 727.6)" class="t" style="stroke-width:1.2"/>
<path d="M291.3,724.3 L291.3,731.4" transform="rotate(-10 293.4 727.6)" class="t" style="stroke-width:0.8"/>
<path d="M289,676 L297,675 L296,688 Z" class="t" style="stroke-width:1.1"/>
<path d="M179.3,632.0 L179.3,686.0" class="ch"/>
<path d="M132.5,646.0 L132.5,661.0" class="ch"/>
<path d="M237.8,619.5 L237.8,631.0" class="ch"/>
<path d="M413.6,726.6 C414.1,723.1 416.2,715.2 417.9,711.5 C419.6,707.8 423.9,701.5 426.5,698.6 C429.1,695.7 435.0,692.1 437.3,690.0 C439.6,687.9 441.1,684.9 443.7,682.9 C446.3,680.9 453.2,676.4 456.6,674.8 C460.0,673.2 466.1,672.1 469.5,671.0 C472.9,669.9 479.0,668.4 482.4,666.8 C485.8,665.2 492.7,660.6 495.3,658.7 C497.9,656.8 500.1,653.7 501.8,652.3 C503.5,650.9 503.9,649.3 508.2,648.4 C512.5,647.5 527.1,645.9 534.0,645.2 C540.9,644.5 552.9,643.6 559.8,643.2 C566.7,642.8 580.4,642.0 585.6,641.9 C590.8,641.8 595.7,642.2 598.5,642.6 C601.3,643.0 604.7,644.1 606.6,645.2 C608.5,646.3 611.6,648.8 613.1,650.6 C614.6,652.4 616.4,656.3 617.9,658.7 C619.4,661.1 622.7,665.4 624.4,668.4 C626.1,671.4 629.3,677.9 630.8,681.3 C632.3,684.7 634.5,690.8 635.6,694.2 C636.7,697.6 638.7,704.1 638.9,707.1 C639.1,710.1 638.4,714.7 637.3,716.8 C636.2,718.9 633.8,721.3 630.8,723.2 C627.8,725.1 619.0,729.3 614.7,731.3 C610.4,733.3 603.2,736.6 598.5,738.5 C593.8,740.4 584.3,743.7 579.2,745.5 C574.1,747.3 564.7,750.4 560.0,752.2 C555.3,754.0 546.9,757.7 544.1,759.2 C541.3,760.7 540.7,762.3 539.0,763.3 C537.3,764.3 534.8,766.2 531.0,766.7 C527.2,767.2 516.2,767.2 510.8,766.9 C505.4,766.6 496.0,765.4 490.6,764.7 C485.2,764.0 475.9,762.4 470.5,761.3 C465.1,760.2 455.7,757.8 450.3,756.2 C444.9,754.6 434.4,750.9 430.2,749.2 C426.0,747.5 421.2,744.6 419.0,743.1 C416.8,741.6 414.7,740.2 414.0,738.0 C413.3,735.8 413.1,730.1 413.6,726.6Z" class="p"/>
<path d="M439.6,702.8 C443.8,700.3 456.4,692.2 465.0,688.0 C473.6,683.8 482.5,680.4 491.2,677.5 C499.9,674.6 509.3,672.8 517.4,670.5 C525.5,668.2 532.9,665.7 540.0,664.0 C547.1,662.3 552.9,661.7 560.0,660.5 C567.1,659.3 574.1,657.8 582.8,657.0 C591.5,656.2 606.5,655.3 612.4,655.5 C618.3,655.7 617.1,657.6 618.0,658.0" class="t" />
<path d="M445.7,710.5 C446.0,710.1 444.3,709.9 447.5,708.0 C450.7,706.1 456.3,702.9 465.0,699.3 C473.7,695.7 488.3,690.1 499.9,686.2 C511.5,682.3 524.8,678.6 534.8,675.7 C544.8,672.8 552.0,670.6 560.0,668.7 C568.0,666.8 575.2,665.2 582.8,664.4 C590.4,663.6 599.5,663.7 605.6,663.9 C611.7,664.1 617.0,665.2 619.3,665.5" class="t" />
<path d="M445.7,712.4 C446.3,713.3 446.0,715.4 449.2,717.7 C452.4,720.0 459.5,723.5 465.0,726.4 C470.5,729.3 476.6,733.9 482.4,735.1 C488.2,736.3 491.2,735.7 499.9,733.4 C508.6,731.1 524.8,724.7 534.8,721.2 C544.8,717.7 552.0,715.8 560.0,712.4 C568.0,709.0 575.2,704.6 582.8,700.8 C590.4,697.0 599.1,692.6 605.6,689.4 C612.1,686.2 618.9,682.8 621.6,681.5" class="t" />
<path d="M544.1,759.2 C544.3,758.0 543.9,754.7 545.1,752.2 C546.3,749.7 548.6,747.1 551.1,744.1 C553.6,741.1 555.3,739.6 560.0,734.0 C564.7,728.4 572.8,716.9 579.2,710.3 C585.6,703.7 592.0,698.5 598.5,694.2 C605.0,689.9 613.0,686.4 617.9,684.5 C622.8,682.6 624.9,681.3 627.6,682.9 C630.3,684.5 632.4,689.6 634.0,694.2 C635.6,698.8 636.8,707.6 637.3,710.3" class="p" />
<path d="M419.0,742.1 C420.9,742.9 425.0,745.1 430.2,747.1 C435.4,749.1 443.6,752.3 450.3,754.2 C457.0,756.1 463.8,757.4 470.5,758.6 C477.2,759.8 483.9,760.7 490.6,761.3 C497.3,761.9 504.1,762.1 510.8,762.3 C517.5,762.5 526.0,762.6 531.0,762.3 C536.0,761.9 539.3,760.6 541.0,760.2" class="t" />
<path d="M426.5,700.8 C427.6,702.2 430.1,706.5 433.0,709.4 C435.9,712.3 439.1,714.8 443.7,718.0 C448.3,721.2 455.2,725.5 460.9,728.7 C466.6,731.9 474.2,735.1 478.1,737.3 C482.1,739.4 483.9,739.8 484.6,741.6 C485.3,743.4 484.2,746.3 482.4,748.1 C480.6,749.9 476.7,751.5 473.8,752.4 C470.9,753.3 466.6,753.2 465.2,753.4" class="t" />
<path d="M448.0,734.1 C450.1,734.3 456.6,734.0 460.9,735.2 C465.2,736.5 471.1,739.8 473.8,741.6 C476.5,743.4 476.5,745.2 477.0,745.9" class="t" />
<path d="M423.3,739.5 C427.4,740.8 441.0,744.9 448.0,747.0 C455.0,749.1 462.3,751.5 465.2,752.4" class="t" />
<path d="M508.2,648.4 C507.7,649.5 506.4,653.1 505.0,655.0 C503.6,656.9 500.8,659.2 500.0,660.0" class="t" />
<rect x="458.0" y="676.7" width="7" height="6" class="p" transform="rotate(-8 461.5 679.7)" style="stroke-width:1.1"/>
<rect x="459.5" y="678.1" width="4" height="3.2" class="t" transform="rotate(-8 461.5 679.7)"/>
<rect x="508.0" y="655.1" width="7" height="6" class="p" transform="rotate(-8 511.5 658.1)" style="stroke-width:1.1"/>
<rect x="509.5" y="656.5" width="4" height="3.2" class="t" transform="rotate(-8 511.5 658.1)"/>
<rect x="559.6" y="647.6" width="7" height="6" class="p" transform="rotate(-8 563.1 650.6)" style="stroke-width:1.1"/>
<rect x="561.1" y="649.0" width="4" height="3.2" class="t" transform="rotate(-8 563.1 650.6)"/>
<rect x="532.1" y="645.0" width="7" height="3" class="p" transform="rotate(-3 535.6 646.5)" style="stroke-width:1.1"/>
<rect x="583.8" y="642.7" width="7" height="3" class="p" transform="rotate(-3 587.3 644.2)" style="stroke-width:1.1"/>
<circle cx="519.5" cy="648.5" r="1.8" class="p"/>
<circle cx="611.5" cy="652.3" r="1.4" class="t" style="stroke-width:1"/>
<ellipse cx="418.3" cy="724" rx="1.5" ry="1.3" class="t" style="stroke-width:1.1"/>
<path d="M500.0,643.0 L509.5,654.5" class="ch"/>
<path d="M547.5,636.0 L563.0,648.0" class="ch"/>
<path d="M553.4,637.7 L598.5,637.7 L600.2,642.6" class="ch"/>
<path d="M617.0,657.0 L644.0,652.8" class="ch"/>
<path d="M519.5,640.0 L519.5,646.0" class="ch"/>
<path d="M452.0,672.0 L461.5,677.0" class="ch"/>
<path d="M309.3,340.1 C308.2,340.7 300.7,339.9 298.4,339.5 C296.1,339.1 293.8,337.9 292.3,337.1 C290.8,336.3 287.7,334.5 286.9,333.5 C286.1,332.5 287.0,331.1 286.3,329.8 C285.6,328.5 283.1,325.0 281.5,323.8 C279.9,322.6 276.5,321.3 274.2,320.8 C271.9,320.3 266.3,320.6 264.5,320.2 C262.7,319.8 261.2,319.0 260.9,317.7 C260.6,316.4 261.7,313.1 262.1,310.5 C262.5,307.9 263.4,301.5 263.9,298.4 C264.4,295.3 265.1,289.5 265.5,287.0 C265.9,284.5 266.3,282.0 266.7,280.0 C267.1,278.0 267.8,274.0 268.7,272.3 C269.6,270.6 271.9,268.7 273.4,267.0 C274.9,265.3 278.4,261.5 280.2,259.6 C282.0,257.7 285.3,254.4 286.9,252.8 C288.5,251.2 290.5,249.2 292.3,247.5 C294.1,245.8 297.9,241.9 300.3,240.1 C302.7,238.3 307.3,235.2 310.0,233.7 C312.7,232.2 316.5,230.3 320.5,229.0 C324.5,227.7 334.4,224.8 339.7,223.8 C345.0,222.8 354.6,221.9 360.4,221.6 C366.2,221.3 375.0,221.3 383.0,221.5 C391.0,221.7 411.8,222.7 420.3,223.2 C428.8,223.7 441.1,224.5 446.5,225.2 C451.9,225.9 457.1,227.0 460.6,228.2 C464.1,229.4 469.2,232.3 472.7,234.3 C476.2,236.3 483.7,240.6 486.9,243.3 C490.1,246.0 494.0,250.5 496.9,254.4 C499.8,258.3 506.0,268.0 509.0,272.6 C512.0,277.2 517.5,286.2 519.1,288.7 C520.7,291.2 521.1,291.4 521.1,291.7 C521.1,292.0 520.2,291.6 519.1,290.7 C518.0,289.8 515.5,288.2 513.1,284.7 C510.7,281.2 503.7,268.8 501.0,264.5 C498.3,260.2 495.1,254.5 492.9,252.4 C490.7,250.3 488.6,249.3 484.8,248.8 C481.0,248.3 470.6,248.3 464.7,248.4 C458.8,248.5 447.8,248.9 440.5,249.4 C433.2,249.9 418.3,251.2 410.2,252.4 C402.1,253.6 386.7,256.6 380.0,258.5 C373.3,260.4 365.3,264.1 360.0,267.0 C354.7,269.9 344.2,277.3 340.0,280.2 C335.8,283.1 331.4,286.3 328.6,288.7 C325.8,291.1 320.9,296.3 319.0,298.4 C317.1,300.5 315.1,302.5 314.1,304.4 C313.1,306.3 312.3,310.2 311.7,312.9 C311.1,315.6 309.9,322.1 309.3,325.0 C308.7,327.9 306.9,332.7 306.9,334.7 C306.9,336.7 310.4,339.5 309.3,340.1Z" class="p"/>
<path d="M267.3,292.0 C267.5,290.2 267.7,284.2 268.7,281.0 C269.7,277.8 271.5,275.6 273.4,273.0 C275.3,270.4 277.4,268.5 280.2,265.6 C283.0,262.7 286.8,258.8 290.2,255.5 C293.6,252.2 297.0,248.9 300.3,246.1 C303.6,243.3 307.1,240.6 310.0,238.7 C312.9,236.8 316.7,235.2 318.0,234.5" class="t" />
<path d="M305.0,309.3 C305.1,308.1 304.7,304.4 305.6,302.0 C306.5,299.6 308.5,297.4 310.5,294.8 C312.5,292.2 314.4,289.6 317.7,286.3 C320.9,283.0 324.7,279.0 330.0,275.0 C335.3,271.0 343.9,265.8 349.4,262.2 C354.8,258.6 356.8,256.5 362.7,253.7 C368.6,250.9 377.1,247.3 385.0,245.2 C392.9,243.1 400.9,242.3 410.2,241.3 C419.4,240.3 431.4,239.5 440.5,239.2 C449.6,238.9 458.0,238.8 464.7,239.3 C471.4,239.8 476.6,241.0 480.8,242.3 C485.0,243.7 487.2,245.2 489.9,247.4 C492.6,249.6 494.4,251.9 496.9,255.4 C499.4,258.9 501.6,263.3 505.0,268.5 C508.4,273.7 515.1,283.7 517.1,286.7" class="t" />
<path d="M309.3,340.1 C309.5,339.2 309.9,337.6 310.5,334.7 C311.1,331.8 312.0,326.6 312.9,322.6 C313.8,318.6 314.9,313.7 315.9,310.5 C316.9,307.3 317.1,306.0 319.0,303.2 C320.9,300.4 323.9,296.7 327.4,293.5 C330.9,290.3 334.6,287.6 340.0,283.9 C345.4,280.1 353.3,274.6 360.0,271.0 C366.7,267.4 371.6,264.6 380.0,262.0 C388.4,259.4 400.1,257.1 410.2,255.5 C420.3,253.9 431.4,253.2 440.5,252.5 C449.6,251.8 457.3,251.6 464.7,251.5 C472.1,251.4 480.1,251.2 484.8,251.8 C489.5,252.5 491.5,254.8 492.9,255.4" class="t" />
<ellipse cx="337.3" cy="245" rx="32" ry="16.5" transform="rotate(-9 337.3 245)" class="p" style="stroke-width:0.9"/>
<ellipse cx="338" cy="249" rx="26.5" ry="13" transform="rotate(-8 338 249)" class="p" style="stroke-width:1.35"/>
<path d="M265.7,320.2 C266.3,318.2 268.5,311.7 269.4,308.1 C270.3,304.5 270.8,301.6 271.2,298.4 C271.6,295.2 271.3,290.8 271.8,288.7 C272.3,286.6 272.6,286.9 274.2,285.7 C275.8,284.5 278.9,282.6 281.5,281.5 C284.1,280.4 287.7,279.3 289.9,279.0 C292.1,278.7 293.6,278.8 294.8,279.6 C296.0,280.4 296.7,281.8 297.2,283.9 C297.7,286.0 297.9,288.9 297.8,292.3 C297.7,295.7 297.1,300.6 296.6,304.4 C296.1,308.2 295.1,313.5 294.8,315.3" class="t" />
<path d="M292.9,282.7 L282.7,321.4" class="t"/>
<path d="M296.5,327.0 L290.0,335.0" class="t"/>
<path d="M475.6,251.2 L478.0,250.6 Q478.8,250.4 479.2,251.1 L489.5,267.8 Q489.9,268.5 490.2,269.2 L491.6,272.9 Q491.9,273.6 491.1,273.9 L489.7,274.3 Q488.9,274.6 488.5,273.9 L485.2,269.2 Q484.8,268.5 484.4,267.8 L475.2,252.1 Q474.8,251.4 475.6,251.2Z" class="p" />
<path d="M484.0,258.8 L488.7,260.2 Q489.9,260.5 490.8,261.3 L498.0,267.7 Q498.9,268.5 498.9,269.7 L498.9,273.4 Q498.9,274.6 497.7,274.8 L494.1,275.4 Q492.9,275.6 492.1,274.7 L485.6,267.4 Q484.8,266.5 484.5,265.3 L483.1,259.7 Q482.8,258.5 484.0,258.8Z" class="p" style="stroke-width:1.4"/>
<path d="M486,261 L494,268.5 L494,274 M489.5,262 L497,269" class="t" style="stroke-width:1.2"/>
<ellipse cx="492" cy="268" rx="2" ry="1.5" class="t" style="stroke-width:1.2"/>
<ellipse cx="268.7" cy="301.4" rx="1.6" ry="4" transform="rotate(0 268.7 301.4)" class="p" style="stroke-width:1.2"/>
<ellipse cx="268.7" cy="301.4" rx="0.7" ry="1.6" transform="rotate(0 268.7 301.4)" class="t"/>
<circle cx="297.8" cy="318.3" r="4.6" class="p"/><circle cx="297.8" cy="318.3" r="2.5" class="t"/>
<ellipse cx="391" cy="229.2" rx="5" ry="1.8" transform="rotate(-3 391 229.2)" class="p" style="stroke-width:1.2"/>
<ellipse cx="391" cy="229.2" rx="2.2" ry="0.7" transform="rotate(-3 391 229.2)" class="t"/>
<ellipse cx="445.5" cy="230.6" rx="5" ry="1.8" transform="rotate(5 445.5 230.6)" class="p" style="stroke-width:1.2"/>
<ellipse cx="445.5" cy="230.6" rx="2.2" ry="0.7" transform="rotate(5 445.5 230.6)" class="t"/>
<circle cx="383" cy="252" r="1.3" class="t" style="stroke-width:1"/>
<circle cx="436.5" cy="244.8" r="1.3" class="t" style="stroke-width:1"/>
<circle cx="487.9" cy="244.8" r="1.2" class="t" style="stroke-width:1"/>
<circle cx="292.5" cy="249" r="1.3" class="t" style="stroke-width:1"/>
<circle cx="339" cy="276" r="1.3" class="t" style="stroke-width:1"/>
<path d="M378.0,104.0 L378.0,231.0" class="ch"/>
<path d="M423.0,107.5 L423.0,231.0" class="ch"/>
<path d="M333.0,165.0 L333.0,215.0 L367.0,215.0 L367.0,230.0" class="ch"/>
<path d="M262.5,220.5 L292.5,249.0" class="ch"/>
<path d="M305.5,221.0 L339.0,276.0" class="ch"/>
<path d="M404.0,214.5 L396.0,230.0" class="ch"/>
<path d="M452.4,214.5 L447.0,228.0" class="ch"/>
<path d="M392.0,190.0 L392.0,230.0" class="ch"/>
<path d="M446.0,190.0 L446.0,230.0" class="ch"/>
<path d="M524.5,180.5 L487.5,244.5" class="ch"/>
<path d="M251.0,304.0 L267.5,302.0" class="ch"/>
<path d="M255.0,335.5 L297.5,319.0" class="ch"/>
<path d="M392.0,236.0 L383.0,252.0" class="ch"/>
<path d="M446.0,236.0 L436.5,244.8" class="ch"/>
<g transform="translate(392.0,175.6) rotate(0.0) scale(1.0)">
<rect x="-2.2" y="1.9" width="4.5" height="12.0" class="p" rx="0.6"/>
<path d="M-2.2,3.9 L2.2,3.3" class="t"/>
<path d="M-2.2,5.7 L2.2,5.1" class="t"/>
<path d="M-2.2,7.5 L2.2,6.9" class="t"/>
<path d="M-2.2,9.3 L2.2,8.7" class="t"/>
<path d="M-2.2,11.1 L2.2,10.5" class="t"/>
<path d="M-2.2,12.9 L2.2,12.3" class="t"/>
<ellipse cx="0" cy="0" rx="6.2" ry="3.8" class="p"/>
<ellipse cx="0" cy="-1.3" rx="1.6" ry="1.1" class="t"/>
</g>
<g transform="translate(446.5,175.9) rotate(0.0) scale(1.0)">
<rect x="-2.2" y="1.9" width="4.5" height="12.0" class="p" rx="0.6"/>
<path d="M-2.2,3.9 L2.2,3.3" class="t"/>
<path d="M-2.2,5.7 L2.2,5.1" class="t"/>
<path d="M-2.2,7.5 L2.2,6.9" class="t"/>
<path d="M-2.2,9.3 L2.2,8.7" class="t"/>
<path d="M-2.2,11.1 L2.2,10.5" class="t"/>
<path d="M-2.2,12.9 L2.2,12.3" class="t"/>
<ellipse cx="0" cy="0" rx="6.2" ry="3.8" class="p"/>
<ellipse cx="0" cy="-1.3" rx="1.6" ry="1.1" class="t"/>
</g>
<g transform="translate(562.2,214.1) rotate(51.0) scale(1.0)">
<rect x="-1.8" y="2.5" width="3.6" height="10.0" class="p" rx="0.6"/>
<path d="M-1.8,4.5 L1.8,3.9" class="t"/>
<path d="M-1.8,6.3 L1.8,5.7" class="t"/>
<path d="M-1.8,8.1 L1.8,7.5" class="t"/>
<path d="M-1.8,9.9 L1.8,9.3" class="t"/>
<path d="M-1.8,11.7 L1.8,11.1" class="t"/>
<ellipse cx="0" cy="0" rx="5.2" ry="5" class="p"/>
<ellipse cx="0" cy="1.2" rx="2.9" ry="2.8" class="p"/>
</g>
<g transform="translate(562.2,239.5) rotate(53.0) scale(1.0)">
<rect x="-1.8" y="2.5" width="3.6" height="10.0" class="p" rx="0.6"/>
<path d="M-1.8,4.5 L1.8,3.9" class="t"/>
<path d="M-1.8,6.3 L1.8,5.7" class="t"/>
<path d="M-1.8,8.1 L1.8,7.5" class="t"/>
<path d="M-1.8,9.9 L1.8,9.3" class="t"/>
<path d="M-1.8,11.7 L1.8,11.1" class="t"/>
<ellipse cx="0" cy="0" rx="5.2" ry="5" class="p"/>
<ellipse cx="0" cy="1.2" rx="2.9" ry="2.8" class="p"/>
</g>
<g transform="translate(251.0,209.5) rotate(-45.0) scale(1.0)">
<rect x="-1.5" y="1.5" width="3.0" height="11.0" class="p" rx="0.6"/>
<path d="M-1.5,3.5 L1.5,2.9" class="t"/>
<path d="M-1.5,5.3 L1.5,4.7" class="t"/>
<path d="M-1.5,7.1 L1.5,6.5" class="t"/>
<path d="M-1.5,8.9 L1.5,8.3" class="t"/>
<path d="M-1.5,10.7 L1.5,10.1" class="t"/>
<ellipse cx="0" cy="0" rx="3.5" ry="3" class="p"/>
<path d="M-2.1,-0.6 L2.1,-0.6" class="t"/>
</g>
<g transform="translate(297.0,208.0) rotate(-31.0) scale(1.0)">
<rect x="-1.5" y="1.5" width="3.0" height="11.0" class="p" rx="0.6"/>
<path d="M-1.5,3.5 L1.5,2.9" class="t"/>
<path d="M-1.5,5.3 L1.5,4.7" class="t"/>
<path d="M-1.5,7.1 L1.5,6.5" class="t"/>
<path d="M-1.5,8.9 L1.5,8.3" class="t"/>
<path d="M-1.5,10.7 L1.5,10.1" class="t"/>
<ellipse cx="0" cy="0" rx="3.5" ry="3" class="p"/>
<path d="M-2.1,-0.6 L2.1,-0.6" class="t"/>
</g>
<g transform="translate(531.0,168.0) rotate(29.5) scale(1.0)">
<rect x="-1.5" y="1.5" width="3.0" height="11.0" class="p" rx="0.6"/>
<path d="M-1.5,3.5 L1.5,2.9" class="t"/>
<path d="M-1.5,5.3 L1.5,4.7" class="t"/>
<path d="M-1.5,7.1 L1.5,6.5" class="t"/>
<path d="M-1.5,8.9 L1.5,8.3" class="t"/>
<path d="M-1.5,10.7 L1.5,10.1" class="t"/>
<ellipse cx="0" cy="0" rx="3.5" ry="3" class="p"/>
<path d="M-2.1,-0.6 L2.1,-0.6" class="t"/>
</g>
<g transform="translate(583.5,262.9) rotate(85.0) scale(1.0)">
<rect x="-1.7" y="1.6" width="3.4" height="10.0" class="p" rx="0.6"/>
<path d="M-1.7,3.6 L1.7,3.0" class="t"/>
<path d="M-1.7,5.5 L1.7,4.9" class="t"/>
<path d="M-1.7,7.2 L1.7,6.7" class="t"/>
<path d="M-1.7,9.1 L1.7,8.5" class="t"/>
<path d="M-1.7,10.9 L1.7,10.3" class="t"/>
<ellipse cx="0" cy="0" rx="3.3" ry="3.3" class="p"/>
<path d="M-2.0,-0.7 L2.0,-0.7" class="t"/>
</g>
<g transform="translate(237.5,305.0) rotate(-94.0) scale(1.0)">
<rect x="-1.5" y="1.6" width="3.0" height="10.0" class="p" rx="0.6"/>
<path d="M-1.5,3.6 L1.5,3.0" class="t"/>
<path d="M-1.5,5.4 L1.5,4.8" class="t"/>
<path d="M-1.5,7.2 L1.5,6.6" class="t"/>
<path d="M-1.5,9.0 L1.5,8.4" class="t"/>
<path d="M-1.5,10.8 L1.5,10.2" class="t"/>
<ellipse cx="0" cy="0" rx="5.5" ry="3.2" class="p"/>
<ellipse cx="0" cy="0.8" rx="3.0" ry="1.8" class="p"/>
</g>
<g transform="translate(242.5,340.0) rotate(-110.0) scale(1.0)">
<rect x="-1.5" y="1.6" width="3.0" height="10.0" class="p" rx="0.6"/>
<path d="M-1.5,3.6 L1.5,3.0" class="t"/>
<path d="M-1.5,5.4 L1.5,4.8" class="t"/>
<path d="M-1.5,7.2 L1.5,6.6" class="t"/>
<path d="M-1.5,9.0 L1.5,8.4" class="t"/>
<path d="M-1.5,10.8 L1.5,10.2" class="t"/>
<ellipse cx="0" cy="0" rx="5.5" ry="3.2" class="p"/>
<ellipse cx="0" cy="0.8" rx="3.0" ry="1.8" class="p"/>
</g>
<g transform="translate(176.0,314.5) rotate(0.0) scale(1.0)">
<rect x="-1.5" y="1.2" width="3.0" height="13.0" class="p" rx="0.6"/>
<path d="M-1.5,3.2 L1.5,2.6" class="t"/>
<path d="M-1.5,5.0 L1.5,4.5" class="t"/>
<path d="M-1.5,6.8 L1.5,6.2" class="t"/>
<path d="M-1.5,8.7 L1.5,8.1" class="t"/>
<path d="M-1.5,10.5 L1.5,9.9" class="t"/>
<path d="M-1.5,12.3 L1.5,11.7" class="t"/>
<ellipse cx="0" cy="0" rx="3.5" ry="2.5" class="p"/>
<path d="M-2.1,-0.5 L2.1,-0.5" class="t"/>
</g>
<g transform="translate(351.0,381.0) rotate(85.0) scale(1.0)">
<rect x="-1.6" y="1.6" width="3.2" height="10.0" class="p" rx="0.6"/>
<path d="M-1.6,3.6 L1.6,3.0" class="t"/>
<path d="M-1.6,5.5 L1.6,4.9" class="t"/>
<path d="M-1.6,7.2 L1.6,6.7" class="t"/>
<path d="M-1.6,9.1 L1.6,8.5" class="t"/>
<path d="M-1.6,10.9 L1.6,10.3" class="t"/>
<ellipse cx="0" cy="0" rx="3.3" ry="3.3" class="p"/>
<path d="M-2.0,-0.7 L2.0,-0.7" class="t"/>
</g>
<path d="M366.0,91.5 C367.4,90.7 372.2,89.4 374.0,89.2 C375.8,89.0 375.2,88.8 377.0,90.5 C378.8,92.2 383.5,97.7 384.5,99.5 C385.5,101.3 384.5,100.9 383.0,101.5 C381.5,102.1 377.2,102.9 375.5,103.0 C373.8,103.1 374.7,103.5 373.0,102.0 C371.3,100.5 366.7,95.8 365.5,94.0 C364.3,92.2 364.6,92.3 366.0,91.5Z" class="p" />
<path d="M401.5,88.5 C401.9,87.8 400.2,87.0 404.0,86.5 C407.8,86.0 420.2,85.5 424.0,85.5 C427.8,85.5 424.6,83.8 427.0,86.5 C429.4,89.2 436.8,98.5 438.5,101.5 C440.2,104.5 440.4,103.6 437.0,104.5 C433.6,105.4 421.7,106.8 418.0,107.0 C414.3,107.2 417.8,108.2 415.0,105.5 C412.2,102.8 403.8,93.8 401.5,91.0 C399.2,88.2 401.1,89.2 401.5,88.5Z" class="p" />
<path d="M323.6,154.8 C325,153.2 330,153 336.5,153.1 L338.7,154.1 L343.3,160.1 C343.5,162.5 341,164.5 337.6,167 L335,167.2 C334,165 334.2,163.5 333.8,162.7 C331,159.2 327.5,157 323.6,155.8 Z" class="p" style="stroke-width:1.4"/>
<path d="M331,155 L337.5,154.2 L342.6,160.3 L341.3,163 L337.5,165.5 L336,161 Z" style="fill:#6a6a6a;stroke:none"/>
<path d="M332,156.5 L336.5,162 M334,155 L339,161.5 M336.5,154.5 L341.5,161" class="t" style="stroke:#fff;stroke-width:0.4"/>
<path d="M165.5,791.1 L172.0,790.3 Q174.0,790.0 176.0,790.2 L180.3,790.8 Q182.3,791.0 183.6,792.5 L187.1,796.5 Q188.7,798.4 187.3,800.5 L185.5,803.1 Q184.4,804.8 182.5,805.3 L173.4,807.6 Q171.5,808.1 169.6,807.6 L165.3,806.5 Q162.9,805.9 161.5,803.8 L160.0,801.6 Q158.6,799.5 159.7,797.3 L161.2,794.2 Q162.5,791.5 165.5,791.1Z" class="p" />
<path d="M158.6,800.5 C159.3,801.7 160.8,806.1 162.9,807.6 C165.1,809.1 167.9,810.0 171.5,809.8 C175.1,809.6 181.5,808.1 184.4,806.5 C187.3,804.9 188.0,801.1 188.7,800.0" class="t" />
<path d="M293.6,781.4 L302.0,785.7 Q303.8,786.6 302.5,788.1 L287.4,805.8 Q285.5,808.1 282.5,808.1 L281.0,808.1 Q279.0,808.1 277.4,806.9 L265.3,798.0 Q262.9,796.2 264.0,794.6 L264.3,794.2 Q265.1,793.0 266.6,792.7 L276.1,790.9 Q279.0,790.3 281.5,788.6 L285.1,786.1 Q287.6,784.4 289.2,782.2 L289.2,782.2 Q290.9,780.1 293.6,781.4Z" class="p" />
<path d="M263.0,797.5 C265.7,799.5 275.2,807.6 279.0,809.6 C282.8,811.6 284.4,809.6 285.5,809.6" class="t" />
<path d="M225.8,824.4 L241.9,832.6 Q244.6,833.9 244.6,836.0 L244.6,836.0 Q244.6,838.2 243.1,840.8 L233.8,856.3 Q231.7,859.7 228.5,862.1 L226.3,863.7 Q223.1,866.1 219.1,865.7 L216.4,865.5 Q212.4,865.1 209.8,862.1 L201.0,851.9 Q198.4,848.9 198.4,845.7 L198.4,845.5 Q198.4,842.5 200.3,840.2 L201.2,839.1 Q203.8,836.0 207.1,833.8 L220.6,824.8 Q223.1,823.1 225.8,824.4Z" class="p" />
<path d="M198.4,850.5 C200.7,853.2 208.3,863.9 212.4,866.8 C216.5,869.7 219.9,868.7 223.1,867.8 C226.3,866.9 230.3,862.5 231.7,861.4" class="t" />
<path d="M227.6,766.8 L230.4,763.3 Q231.7,761.8 233.5,760.9 L238.5,758.4 Q240.3,757.5 242.3,757.5 L246.9,757.5 Q248.9,757.5 250.3,758.9 L251.8,760.4 Q253.2,761.8 252.1,763.5 L252.1,763.5 Q251.1,765.1 250.0,766.8 L248.9,768.7 Q247.8,770.4 247.4,772.4 L246.1,778.1 Q245.7,780.1 244.6,780.7 L244.6,780.7 Q243.5,781.2 241.8,780.2 L237.7,777.9 Q236.0,776.9 234.4,775.7 L232.2,773.8 Q230.6,772.6 229.2,771.2 L227.7,769.7 Q226.3,768.3 227.6,766.8Z" class="p" />
<path d="M230.6,774.0 C231.5,774.8 233.8,777.0 236.0,778.5 C238.2,780.0 241.9,782.3 243.5,782.8 C245.1,783.3 245.3,781.9 245.7,781.7" class="t" />
<path d="M175.6,751.0 L175.6,795.0" class="ch"/>
<path d="M284.4,752.0 L284.4,798.0" class="ch"/>
<path d="M242.0,751.0 L242.0,766.0" class="ch"/>
<path d="M231.3,771.0 L231.3,784.4 L223.1,795.2 L223.1,842.5" class="ch"/>
<path d="M109.2,921.1 L124.5,897.5 L128,899.7 L128.4,901.8 L150.7,890 L154.6,892.2 L154.6,910.1 L128.8,924.6 L128.8,932.4 Z" class="p" style="stroke-width:1.2"/>
<path d="M113.1,921.9 L126.2,900.1 M128.4,904.2 L151.5,892 L154.6,892.2 M151.5,892 L151.8,910.5 M113.1,921.9 L109.2,921.1" class="t"/>
<text transform="matrix(0.62,-0.29,-0.12,1,127.4,921.6)" style="font-family:&quot;Liberation Sans&quot;,sans-serif;font-weight:bold;font-size:16.8px;fill:#111;stroke:#111;stroke-width:0.6">FWD</text>
<g transform="translate(391.8,359.0) rotate(0.0) scale(1.0)">
<path d="M-6.3,-1.6 L0.2,-5.2 L7.3,-1.9 L7.3,2.3 L-0.8,5.5 L-6.3,2.9 Z" class="p" style="stroke-width:1.4"/>
<path d="M-6.3,-1.6 L-0.5,1.3 L7.3,-1.9 M-0.5,1.3 L-0.8,5.5" class="t" style="stroke-width:1.2"/>
<path d="M-4.8,0 L-4.8,3 M-3.5,0.6 L-3.5,3.6 M0.6,3.2 L6.3,0.7 M0.6,4.3 L6.3,1.8" class="t" style="stroke-width:1.1"/>
<ellipse cx="0.4" cy="-1.9" rx="1.6" ry="0.9" class="t" style="stroke-width:1.1"/>
</g>
<g transform="translate(448.0,359.0) rotate(0.0) scale(1.0)">
<path d="M-6.3,-1.6 L0.2,-5.2 L7.3,-1.9 L7.3,2.3 L-0.8,5.5 L-6.3,2.9 Z" class="p" style="stroke-width:1.4"/>
<path d="M-6.3,-1.6 L-0.5,1.3 L7.3,-1.9 M-0.5,1.3 L-0.8,5.5" class="t" style="stroke-width:1.2"/>
<path d="M-4.8,0 L-4.8,3 M-3.5,0.6 L-3.5,3.6 M0.6,3.2 L6.3,0.7 M0.6,4.3 L6.3,1.8" class="t" style="stroke-width:1.1"/>
<ellipse cx="0.4" cy="-1.9" rx="1.6" ry="0.9" class="t" style="stroke-width:1.1"/>
</g>
<g transform="translate(230.0,556.0) rotate(0.0) scale(0.85)">
<path d="M-4.5,-5 L3.5,-5.5 L5,-4 L5,5 L-3.5,5.5 L-5,4 Z" class="p"/>
<path d="M-3.5,-4 L3.5,-4.5 L3.5,4 L-3.5,4.5 Z" class="t"/>
<circle cx="0" cy="0" r="1.3" class="t"/>
</g>
<g transform="translate(248.5,577.5) rotate(0.0) scale(0.85)">
<path d="M-4.5,-5 L3.5,-5.5 L5,-4 L5,5 L-3.5,5.5 L-5,4 Z" class="p"/>
<path d="M-3.5,-4 L3.5,-4.5 L3.5,4 L-3.5,4.5 Z" class="t"/>
<circle cx="0" cy="0" r="1.3" class="t"/>
</g>
<g transform="translate(520.5,482.5) rotate(0.0) scale(0.85)">
<path d="M-4.5,-5 L3.5,-5.5 L5,-4 L5,5 L-3.5,5.5 L-5,4 Z" class="p"/>
<path d="M-3.5,-4 L3.5,-4.5 L3.5,4 L-3.5,4.5 Z" class="t"/>
<circle cx="0" cy="0" r="1.3" class="t"/>
</g>
<g transform="translate(540.5,492.5) rotate(0.0) scale(0.85)">
<path d="M-4.5,-5 L3.5,-5.5 L5,-4 L5,5 L-3.5,5.5 L-5,4 Z" class="p"/>
<path d="M-3.5,-4 L3.5,-4.5 L3.5,4 L-3.5,4.5 Z" class="t"/>
<circle cx="0" cy="0" r="1.3" class="t"/>
</g>
<g transform="translate(561.0,537.5) rotate(0.0) scale(0.85)">
<path d="M-4.5,-5 L3.5,-5.5 L5,-4 L5,5 L-3.5,5.5 L-5,4 Z" class="p"/>
<path d="M-3.5,-4 L3.5,-4.5 L3.5,4 L-3.5,4.5 Z" class="t"/>
<circle cx="0" cy="0" r="1.3" class="t"/>
</g>
<g transform="translate(547.5,632.0) rotate(0.0) scale(1.0)">
<rect x="-4.3" y="-5.6" width="6.6" height="2.2" rx="1" class="p" style="stroke-width:1.3"/>
<path d="M-4.3,-2.8 L1.6,-2.8 L2,2.8 L-0.5,4.6 L-3.6,3.4 Z" class="p" style="stroke-width:1.5"/>
<rect x="0.2" y="-1.2" width="6" height="2.2" rx="0.6" class="p" style="stroke-width:1.2"/>
<path d="M-3,-1.5 L-1,3 M-1.5,-2 L0.5,2.5" class="t" style="stroke-width:1.1"/>
</g>
<g transform="translate(497.5,639.6) rotate(0.0) scale(1.0)">
<rect x="-4.3" y="-5.6" width="6.6" height="2.2" rx="1" class="p" style="stroke-width:1.3"/>
<path d="M-4.3,-2.8 L1.6,-2.8 L2,2.8 L-0.5,4.6 L-3.6,3.4 Z" class="p" style="stroke-width:1.5"/>
<rect x="0.2" y="-1.2" width="6" height="2.2" rx="0.6" class="p" style="stroke-width:1.2"/>
<path d="M-3,-1.5 L-1,3 M-1.5,-2 L0.5,2.5" class="t" style="stroke-width:1.1"/>
</g>
<g transform="translate(450.4,668.8) rotate(0.0) scale(1.0)">
<rect x="-4.3" y="-5.6" width="6.6" height="2.2" rx="1" class="p" style="stroke-width:1.3"/>
<path d="M-4.3,-2.8 L1.6,-2.8 L2,2.8 L-0.5,4.6 L-3.6,3.4 Z" class="p" style="stroke-width:1.5"/>
<rect x="0.2" y="-1.2" width="6" height="2.2" rx="0.6" class="p" style="stroke-width:1.2"/>
<path d="M-3,-1.5 L-1,3 M-1.5,-2 L0.5,2.5" class="t" style="stroke-width:1.1"/>
</g>
<g transform="translate(196.0,436.0) rotate(0.0) scale(1.1)">
<rect x="-4.3" y="-5.6" width="6.6" height="2.2" rx="1" class="p" style="stroke-width:1.3"/>
<path d="M-4.3,-2.8 L1.6,-2.8 L2,2.8 L-0.5,4.6 L-3.6,3.4 Z" class="p" style="stroke-width:1.5"/>
<rect x="0.2" y="-1.2" width="6" height="2.2" rx="0.6" class="p" style="stroke-width:1.2"/>
<path d="M-3,-1.5 L-1,3 M-1.5,-2 L0.5,2.5" class="t" style="stroke-width:1.1"/>
</g>
<ellipse cx="328.75" cy="383.75" rx="4" ry="5.2" transform="rotate(0 328.75 383.75)" class="p" style="stroke-width:1.3"/>
<ellipse cx="328.75" cy="383.75" rx="1.8" ry="2.3" transform="rotate(0 328.75 383.75)" class="t"/>
<ellipse cx="649.5" cy="650.6" rx="4.2" ry="6" transform="rotate(0 649.5 650.6)" class="p" style="stroke-width:1.3"/>
<ellipse cx="649.5" cy="650.6" rx="1.9" ry="2.7" transform="rotate(0 649.5 650.6)" class="t"/>
<g transform="translate(286.5,440.8) rotate(0.0) scale(1.0)">
<rect x="-1.8" y="1.8" width="3.6" height="12.5" class="p" rx="0.6"/>
<path d="M-1.8,3.8 L1.8,3.1" class="t"/>
<path d="M-1.8,5.5 L1.8,5.0" class="t"/>
<path d="M-1.8,7.3 L1.8,6.8" class="t"/>
<path d="M-1.8,9.2 L1.8,8.6" class="t"/>
<path d="M-1.8,11.0 L1.8,10.4" class="t"/>
<path d="M-1.8,12.8 L1.8,12.2" class="t"/>
<ellipse cx="0" cy="0" rx="6.2" ry="3.5" class="p" style="stroke-width:1.4"/>
<ellipse cx="0" cy="-1.2" rx="2.0" ry="1.1" class="t" style="stroke-width:1.2"/>
</g>
<g transform="translate(328.5,441.5) rotate(0.0) scale(1.0)">
<rect x="-1.8" y="1.8" width="3.6" height="12.5" class="p" rx="0.6"/>
<path d="M-1.8,3.8 L1.8,3.1" class="t"/>
<path d="M-1.8,5.5 L1.8,5.0" class="t"/>
<path d="M-1.8,7.3 L1.8,6.8" class="t"/>
<path d="M-1.8,9.2 L1.8,8.6" class="t"/>
<path d="M-1.8,11.0 L1.8,10.4" class="t"/>
<path d="M-1.8,12.8 L1.8,12.2" class="t"/>
<ellipse cx="0" cy="0" rx="6.2" ry="3.5" class="p" style="stroke-width:1.4"/>
<ellipse cx="0" cy="-1.2" rx="2.0" ry="1.1" class="t" style="stroke-width:1.2"/>
</g>
<g transform="translate(404.0,401.0) rotate(0.0) scale(1.0)">
<rect x="-1.8" y="1.8" width="3.6" height="12.5" class="p" rx="0.6"/>
<path d="M-1.8,3.8 L1.8,3.1" class="t"/>
<path d="M-1.8,5.5 L1.8,5.0" class="t"/>
<path d="M-1.8,7.3 L1.8,6.8" class="t"/>
<path d="M-1.8,9.2 L1.8,8.6" class="t"/>
<path d="M-1.8,11.0 L1.8,10.4" class="t"/>
<path d="M-1.8,12.8 L1.8,12.2" class="t"/>
<ellipse cx="0" cy="0" rx="6.2" ry="3.5" class="p" style="stroke-width:1.4"/>
<ellipse cx="0" cy="-1.2" rx="2.0" ry="1.1" class="t" style="stroke-width:1.2"/>
</g>
<g transform="translate(478.0,419.5) rotate(9.0) scale(1.0)">
<rect x="-1.8" y="1.8" width="3.6" height="12.0" class="p" rx="0.6"/>
<path d="M-1.8,3.8 L1.8,3.1" class="t"/>
<path d="M-1.8,5.5 L1.8,5.0" class="t"/>
<path d="M-1.8,7.3 L1.8,6.8" class="t"/>
<path d="M-1.8,9.2 L1.8,8.6" class="t"/>
<path d="M-1.8,11.0 L1.8,10.4" class="t"/>
<path d="M-1.8,12.8 L1.8,12.2" class="t"/>
<ellipse cx="0" cy="0" rx="6.2" ry="3.5" class="p" style="stroke-width:1.4"/>
<ellipse cx="0" cy="-1.2" rx="2.0" ry="1.1" class="t" style="stroke-width:1.2"/>
</g>
<g transform="translate(519.5,570.5) rotate(0.0) scale(1.0)">
<rect x="-1.6" y="1.5" width="3.2" height="13.0" class="p" rx="0.6"/>
<path d="M-1.6,3.5 L1.6,2.9" class="t"/>
<path d="M-1.6,5.3 L1.6,4.7" class="t"/>
<path d="M-1.6,7.1 L1.6,6.5" class="t"/>
<path d="M-1.6,8.9 L1.6,8.3" class="t"/>
<path d="M-1.6,10.7 L1.6,10.1" class="t"/>
<path d="M-1.6,12.5 L1.6,11.9" class="t"/>
<ellipse cx="0" cy="0" rx="4.5" ry="3" class="p" style="stroke-width:1.4"/>
<ellipse cx="0" cy="-1.0" rx="1.5" ry="0.9" class="t" style="stroke-width:1.2"/>
</g>
<g transform="translate(668.8,647.0) rotate(86.0) scale(1.0)">
<rect x="-1.7" y="1.6" width="3.4" height="11.0" class="p" rx="0.6"/>
<path d="M-1.7,3.6 L1.7,3.0" class="t"/>
<path d="M-1.7,5.5 L1.7,4.9" class="t"/>
<path d="M-1.7,7.2 L1.7,6.7" class="t"/>
<path d="M-1.7,9.1 L1.7,8.5" class="t"/>
<path d="M-1.7,10.9 L1.7,10.3" class="t"/>
<ellipse cx="0" cy="0" rx="3.3" ry="3.3" class="p"/>
<path d="M-2.0,-0.7 L2.0,-0.7" class="t"/>
</g>
<g transform="translate(61.0,490.5) rotate(-90.0) scale(1.0)">
<rect x="-1.3" y="1.8" width="2.6" height="12.0" class="p" rx="0.6"/>
<path d="M-1.3,3.8 L1.3,3.1" class="t"/>
<path d="M-1.3,5.5 L1.3,5.0" class="t"/>
<path d="M-1.3,7.3 L1.3,6.8" class="t"/>
<path d="M-1.3,9.2 L1.3,8.6" class="t"/>
<path d="M-1.3,11.0 L1.3,10.4" class="t"/>
<path d="M-1.3,12.8 L1.3,12.2" class="t"/>
<ellipse cx="0" cy="0" rx="3.5" ry="3.5" class="p"/>
<ellipse cx="0" cy="0.9" rx="1.9" ry="1.9" class="p"/>
</g>
<g transform="translate(362.6,765.0) rotate(-129.5) scale(1.0)">
<rect x="-1.6" y="1.8" width="3.2" height="9.0" class="p" rx="0.6"/>
<path d="M-1.6,3.8 L1.6,3.2" class="t"/>
<path d="M-1.6,5.6 L1.6,5.0" class="t"/>
<path d="M-1.6,7.4 L1.6,6.8" class="t"/>
<path d="M-1.6,9.2 L1.6,8.6" class="t"/>
<ellipse cx="0" cy="0" rx="3.6" ry="3.6" class="p"/>
<ellipse cx="0" cy="0.9" rx="2.0" ry="2.0" class="p"/>
</g>
<path d="M373.0,755.5 L413.6,727.6" class="s"/>
<path d="M344.5,95.5 L365.5,95.5" class="s"/>
<path d="M435.0,95.5 L457.0,95.5" class="s"/>
<path d="M302.5,156.0 L324.0,156.0" class="s"/>
<path d="M392.0,151.0 L392.0,171.0" class="s"/>
<path d="M467.0,164.5 L451.0,175.0" class="s"/>
<path d="M530.0,177.0 L559.0,177.0" class="s"/>
<path d="M257.0,208.0 L274.0,193.0 L294.0,205.0" class="s"/>
<path d="M566.0,218.0 L585.5,223.0 L566.0,238.8" class="s"/>
<path d="M230.0,264.0 L268.5,272.0" class="s"/>
<path d="M579.0,267.5 L579.0,286.0" class="s"/>
<path d="M174.0,292.5 L176.0,311.0" class="s"/>
<path d="M235.0,304.0 L221.0,320.0 L240.0,337.0" class="s"/>
<path d="M394.2,354.4 L417.3,336.2 L444.6,354.4" class="s"/>
<path d="M328.0,359.0 L328.0,379.0" class="s"/>
<path d="M354.5,351.0 L346.0,377.5" class="s"/>
<path d="M410.0,402.0 L422.5,402.0" class="s"/>
<path d="M485.0,421.0 L512.5,421.0" class="s"/>
<path d="M263.0,449.3 L284.5,449.3" class="s"/>
<path d="M315.5,449.3 L326.5,449.3" class="s"/>
<path d="M175.0,445.5 L192.5,439.0" class="s"/>
<path d="M522.5,479.0 L534.0,464.0 L542.5,490.0" class="s"/>
<path d="M142.0,471.0 L142.0,489.0" class="s"/>
<path d="M252.0,507.5 L272.0,507.5" class="s"/>
<path d="M72.0,494.0 L72.0,514.0" class="s"/>
<path d="M567.5,538.0 L582.5,538.0" class="s"/>
<path d="M226.0,557.5 L206.0,568.0 L246.0,578.0" class="s"/>
<path d="M524.0,576.0 L540.0,576.0" class="s"/>
<path d="M636.0,619.6 L648.0,646.0" class="s"/>
<path d="M661.5,626.0 L661.5,645.0" class="s"/>
<path d="M477.5,640.4 L494.0,640.4" class="s"/>
<path d="M423.3,678.8 L446.2,671.7" class="s"/>
<path d="M212.9,767.7 L228.0,767.7" class="s"/>
<path d="M145.5,799.8 L157.3,799.8" class="s"/>
<path d="M505.8,803.0 L505.8,826.0" class="s"/>
<path d="M290.0,805.5 L290.0,824.0" class="s"/>
<path d="M232.9,859.3 L246.3,859.3" class="s"/>
<path d="M365.0,769.0 L365.0,789.6" class="s"/>
<path d="M553.7,617.0 L547.5,628.0" class="s"/>
<text x="322.5" y="99.4" class="n">22</text>
<text x="457.1" y="99.4" class="n">17</text>
<text x="280.6" y="159.4" class="n">14</text>
<text x="382.6" y="148.3" class="n">15</text>
<text x="465.1" y="162.4" class="n">15</text>
<text x="558.1" y="180.9" class="n">16</text>
<text x="264.1" y="186.9" class="n">16</text>
<text x="588.1" y="225.9" class="n">15</text>
<text x="208.1" y="267.9" class="n">13</text>
<text x="570.1" y="302.4" class="n">16</text>
<text x="168.4" y="287.9" class="n">7</text>
<text x="198.6" y="323.9" class="n">15</text>
<text x="408.7" y="332.1" class="n">12</text>
<text x="319.1" y="350.9" class="n">11</text>
<text x="355.4" y="342.9" class="n">7</text>
<text x="422.6" y="404.4" class="n">10</text>
<text x="512.1" y="425.9" class="n">10</text>
<text x="241.1" y="453.9" class="n">10</text>
<text x="293.6" y="453.9" class="n">10</text>
<text x="161.3" y="456.9" class="n">6</text>
<text x="523.1" y="456.9" class="n">12</text>
<text x="136.9" y="506.9" class="n">5</text>
<text x="239.3" y="510.9" class="n">9</text>
<text x="66.5" y="531.9" class="n">8</text>
<text x="583.1" y="542.4" class="n">12</text>
<text x="182.1" y="571.9" class="n">12</text>
<text x="541.1" y="579.9" class="n">3</text>
<text x="554.5" y="610.9" class="n">2</text>
<text x="621.1" y="615.9" class="n">11</text>
<text x="656.1" y="621.9" class="n">3</text>
<text x="466.5" y="646.9" class="n">2</text>
<text x="409.0" y="684.9" class="n">2</text>
<text x="195.5" y="771.9" class="n">21</text>
<text x="359.8" y="804.9" class="n">4</text>
<text x="125.1" y="805.4" class="n">18</text>
<text x="500.1" y="839.9" class="n">1</text>
<text x="281.4" y="840.7" class="n">19</text>
<text x="246.8" y="866.9" class="n">20</text>
<text x="85.6" y="951.5" class="c">BJX3300-Y270</text>
</svg></body></html>
